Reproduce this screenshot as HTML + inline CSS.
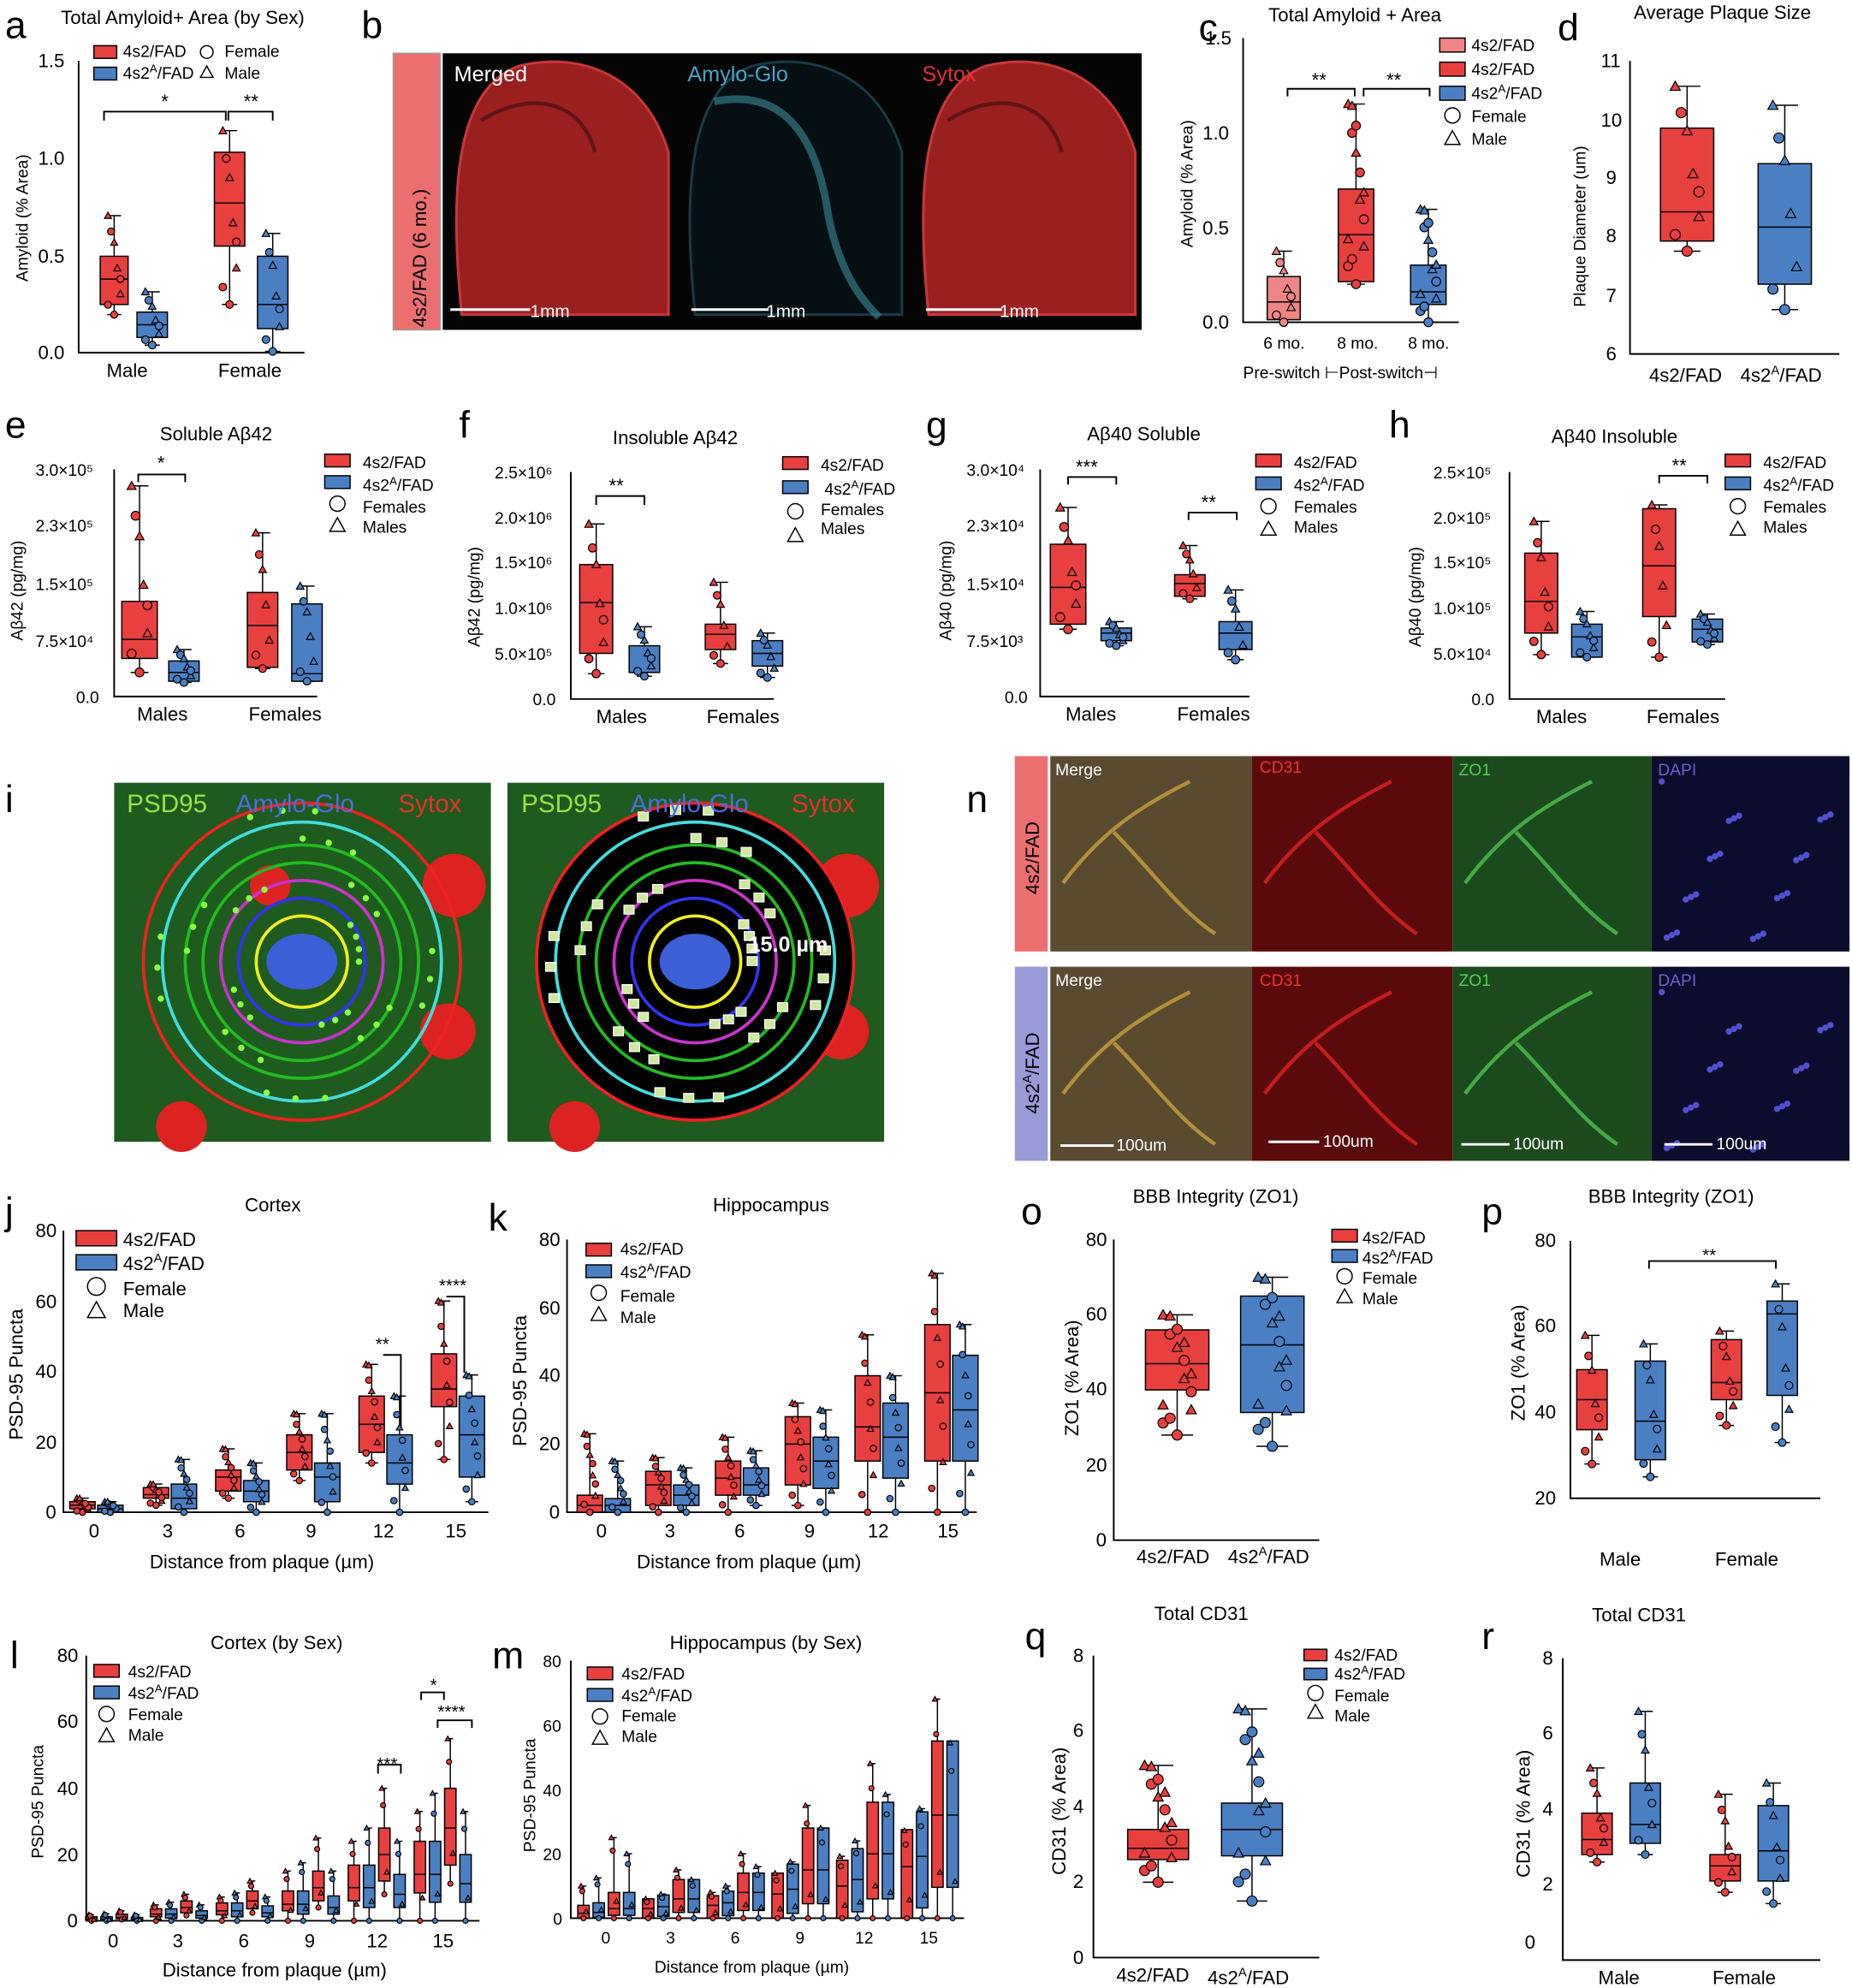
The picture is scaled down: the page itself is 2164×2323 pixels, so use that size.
<!DOCTYPE html>
<html><head><meta charset="utf-8"><style>
html,body{margin:0;padding:0;background:#fff}
svg{display:block}
text{font-family:"Liberation Sans",Arial,sans-serif;fill:#000}
.L{font-size:30px}
.t{font-size:15px}
.s{font-size:13px}
.k{font-size:14px}
.ax{stroke:#000;stroke-width:1.3;fill:none}
</style></head><body>
<svg id="S" width="2164" height="2323" viewBox="0 0 1460 1567" preserveAspectRatio="none" xmlns="http://www.w3.org/2000/svg">
<!-- panel letters -->
<text class="L" x="4" y="30">a</text><text class="L" x="285" y="30">b</text><text class="L" x="945" y="32">c</text><text class="L" x="1228" y="32">d</text>
<text class="L" x="4" y="345">e</text><text class="L" x="362" y="345">f</text><text class="L" x="730" y="345">g</text><text class="L" x="1095" y="345">h</text>
<text class="L" x="4" y="640">i</text><text class="L" x="762" y="640">n</text>
<text class="L" x="4" y="965">j</text><text class="L" x="385" y="970">k</text><text class="L" x="805" y="965">o</text><text class="L" x="1168" y="965">p</text>
<text class="L" x="8" y="1315">l</text><text class="L" x="388" y="1315">m</text><text class="L" x="808" y="1300">q</text><text class="L" x="1168" y="1300">r</text>

<!-- a -->
<text class="t" x="48" y="19">Total Amyloid+ Area (by Sex)</text>
<path class="ax" d="M62,48V278H240"/>
<g class="t"><text x="30" y="53">1.5</text><text x="30" y="130">1.0</text><text x="30" y="207">0.5</text><text x="30" y="283">0.0</text></g>
<text class="s" transform="translate(22,222) rotate(-90)">Amyloid (% Area)</text>
<text class="t" x="84" y="297">Male</text><text class="t" x="172" y="297">Female</text>
<text class="s" x="97" y="45">4s2/FAD</text><text class="s" x="97" y="62">4s2<tspan font-size="9" dy="-5">A</tspan><tspan dy="5">/FAD</tspan></text>
<text class="s" x="177" y="45">Female</text><text class="s" x="177" y="62">Male</text>
<path class="ax" d="M82,95V88H178V95"/><path class="ax" d="M180,95V88H215V95"/>
<text class="t" x="127" y="85">*</text><text class="t" x="192" y="85">**</text>

<!-- b -->
<rect x="310" y="42" width="37" height="218" fill="#ec6f6f" stroke="#999"/>
<text class="t" font-size="20" transform="translate(336,258) rotate(-90)">4s2/FAD (6 mo.)</text>
<rect x="349" y="42" width="551" height="218" fill="#050505"/>
<g id="brains"></g>
<text x="358" y="64" font-size="17" style="fill:#fff">Merged</text>
<text x="542" y="64" font-size="17" style="fill:#4aa3c8">Amylo-Glo</text>
<text x="727" y="64" font-size="17" style="fill:#e83030">Sytox</text>
<g stroke="#fff" stroke-width="2"><path d="M355,244H418M545,244H606M730,244H790"/></g>
<text x="418" y="250" font-size="14" style="fill:#fff">1mm</text><text x="604" y="250" font-size="14" style="fill:#fff">1mm</text><text x="788" y="250" font-size="14" style="fill:#fff">1mm</text>

<!-- c -->
<text class="t" x="1000" y="17">Total Amyloid + Area</text>
<path class="ax" d="M980,30V254H1150"/>
<g class="t"><text x="950" y="35">1.5</text><text x="948" y="110">1.0</text><text x="948" y="185">0.5</text><text x="948" y="259">0.0</text></g>
<text class="s" transform="translate(940,195) rotate(-90)">Amyloid (% Area)</text>
<text class="s" x="996" y="275">6 mo.</text><text class="s" x="1054" y="275">8 mo.</text><text class="s" x="1110" y="275">8 mo.</text>
<text class="s" x="980" y="298">Pre-switch ⊢Post-switch⊣</text>
<path class="ax" d="M1015,76V70H1068V76M1075,76V70H1127V76"/>
<text class="t" x="1034" y="68">**</text><text class="t" x="1093" y="68">**</text>
<text class="s" x="1160" y="40">4s2/FAD</text><text class="s" x="1160" y="59">4s2/FAD</text><text class="s" x="1160" y="78">4s2<tspan font-size="9" dy="-5">A</tspan><tspan dy="5">/FAD</tspan></text><text class="s" x="1160" y="96">Female</text><text class="s" x="1160" y="114">Male</text>

<!-- d -->
<text class="t" x="1288" y="15">Average Plaque Size</text>
<path class="ax" d="M1285,48V279H1450"/>
<g class="t"><text x="1262" y="53">11</text><text x="1262" y="100">10</text><text x="1266" y="145">9</text><text x="1266" y="191">8</text><text x="1266" y="238">7</text><text x="1266" y="284">6</text></g>
<text class="s" transform="translate(1250,242) rotate(-90)">Plaque Diameter (um)</text>
<text class="t" x="1300" y="301">4s2/FAD</text><text class="t" x="1372" y="301">4s2<tspan font-size="10" dy="-6">A</tspan><tspan dy="6">/FAD</tspan></text>

<!-- e -->
<text class="t" x="126" y="347">Soluble Aβ42</text>
<path class="ax" d="M90,370V549H250"/>
<g class="s"><text x="28" y="375">3.0×10⁵</text><text x="28" y="419">2.3×10⁵</text><text x="28" y="465">1.5×10⁵</text><text x="28" y="510">7.5×10⁴</text><text x="60" y="554">0.0</text></g>
<text class="s" transform="translate(18,505) rotate(-90)">Aβ42 (pg/mg)</text>
<text class="t" x="108" y="568">Males</text><text class="t" x="196" y="568">Females</text>
<path class="ax" d="M109,380V374H146V380"/><text class="t" x="124" y="370">*</text>
<text class="s" x="286" y="369">4s2/FAD</text><text class="s" x="286" y="387">4s2<tspan font-size="9" dy="-5">A</tspan><tspan dy="5">/FAD</tspan></text><text class="s" x="286" y="404">Females</text><text class="s" x="286" y="420">Males</text>
<!-- f -->
<text class="t" x="483" y="350">Insoluble Aβ42</text>
<path class="ax" d="M450,372V551H610"/>
<g class="s"><text x="390" y="377">2.5×10⁶</text><text x="390" y="413">2.0×10⁶</text><text x="390" y="448">1.5×10⁶</text><text x="390" y="484">1.0×10⁶</text><text x="390" y="520">5.0×10⁵</text><text x="420" y="556">0.0</text></g>
<text class="s" transform="translate(378,510) rotate(-90)">Aβ42 (pg/mg)</text>
<text class="t" x="470" y="570">Males</text><text class="t" x="557" y="570">Females</text>
<path class="ax" d="M470,398V391H508V398"/><text class="t" x="480" y="388">**</text>
<text class="s" x="647" y="371">4s2/FAD</text><text class="s" x="650" y="390">4s2<tspan font-size="9" dy="-5">A</tspan><tspan dy="5">/FAD</tspan></text><text class="s" x="647" y="406">Females</text><text class="s" x="647" y="421">Males</text>
<!-- g -->
<text class="t" x="857" y="347">Aβ40 Soluble</text>
<path class="ax" d="M820,370V549H985"/>
<g class="s"><text x="762" y="375">3.0×10⁴</text><text x="762" y="419">2.3×10⁴</text><text x="762" y="465">1.5×10⁴</text><text x="762" y="510">7.5×10³</text><text x="792" y="554">0.0</text></g>
<text class="s" transform="translate(750,505) rotate(-90)">Aβ40 (pg/mg)</text>
<text class="t" x="840" y="568">Males</text><text class="t" x="928" y="568">Females</text>
<path class="ax" d="M842,382V376H880V382M937,410V404H975V410"/><text class="t" x="848" y="373">***</text><text class="t" x="947" y="401">**</text>
<text class="s" x="1020" y="369">4s2/FAD</text><text class="s" x="1020" y="387">4s2<tspan font-size="9" dy="-5">A</tspan><tspan dy="5">/FAD</tspan></text><text class="s" x="1020" y="404">Females</text><text class="s" x="1020" y="420">Males</text>
<!-- h -->
<text class="t" x="1223" y="349">Aβ40 Insoluble</text>
<path class="ax" d="M1190,372V551H1360"/>
<g class="s"><text x="1130" y="377">2.5×10⁵</text><text x="1130" y="413">2.0×10⁵</text><text x="1130" y="448">1.5×10⁵</text><text x="1130" y="484">1.0×10⁵</text><text x="1130" y="520">5.0×10⁴</text><text x="1160" y="556">0.0</text></g>
<text class="s" transform="translate(1120,510) rotate(-90)">Aβ40 (pg/mg)</text>
<text class="t" x="1211" y="570">Males</text><text class="t" x="1298" y="570">Females</text>
<path class="ax" d="M1308,381V375H1346V381"/><text class="t" x="1318" y="372">**</text>
<text class="s" x="1390" y="369">4s2/FAD</text><text class="s" x="1390" y="387">4s2<tspan font-size="9" dy="-5">A</tspan><tspan dy="5">/FAD</tspan></text><text class="s" x="1390" y="404">Females</text><text class="s" x="1390" y="420">Males</text>

<!-- i -->
<rect x="90" y="617" width="297" height="283" fill="#1f5a1f"/>
<rect x="400" y="617" width="297" height="283" fill="#1f5a1f"/>
<g id="iimg"></g>
<g font-size="20"><text x="100" y="640" style="fill:#9be04a">PSD95</text><text x="186" y="640" style="fill:#4a6ee0">Amylo-Glo</text><text x="314" y="640" style="fill:#e83030">Sytox</text>
<text x="411" y="640" style="fill:#9be04a">PSD95</text><text x="497" y="640" style="fill:#4a6ee0">Amylo-Glo</text><text x="624" y="640" style="fill:#e83030">Sytox</text></g>
<text x="590" y="750" font-size="17" style="fill:#fff" font-weight="bold">15.0 µm</text>

<!-- n -->
<rect x="800" y="596" width="26" height="154" fill="#ec6f6f"/><rect x="800" y="762" width="26" height="153" fill="#9a9ad8"/>
<text class="t" transform="translate(819,705) rotate(-90)">4s2/FAD</text>
<text class="t" transform="translate(819,878) rotate(-90)">4s2<tspan font-size="10" dy="-6">A</tspan><tspan dy="6">/FAD</tspan></text>
<rect x="828" y="596" width="159" height="154" fill="#5a4a30"/><rect x="987" y="596" width="158" height="154" fill="#5a0a0a"/><rect x="1145" y="596" width="157" height="154" fill="#1c4a1c"/><rect x="1302" y="596" width="156" height="154" fill="#0c0c2c"/>
<rect x="828" y="762" width="159" height="153" fill="#5a4a30"/><rect x="987" y="762" width="158" height="153" fill="#5a0a0a"/><rect x="1145" y="762" width="157" height="153" fill="#1c4a1c"/><rect x="1302" y="762" width="156" height="153" fill="#0c0c2c"/>
<g id="nves"></g>
<g class="s"><text x="832" y="611" style="fill:#fff">Merge</text><text x="993" y="609" style="fill:#e33">CD31</text><text x="1150" y="611" style="fill:#5c5">ZO1</text><text x="1307" y="611" style="fill:#66c">DAPI</text>
<text x="832" y="777" style="fill:#fff">Merge</text><text x="993" y="777" style="fill:#e33">CD31</text><text x="1150" y="777" style="fill:#5c5">ZO1</text><text x="1307" y="777" style="fill:#66c">DAPI</text>
<text x="880" y="907" style="fill:#fff">100um</text><text x="1043" y="904" style="fill:#fff">100um</text><text x="1193" y="906" style="fill:#fff">100um</text><text x="1353" y="906" style="fill:#fff">100um</text></g>
<g stroke="#fff" stroke-width="2"><path d="M836,903H878M1000,900H1040M1152,902H1190M1312,902H1350"/></g>

<!-- j -->
<text class="t" x="193" y="955">Cortex</text>
<path class="ax" d="M50,970V1192H385"/>
<g class="t"><text x="28" y="975">80</text><text x="28" y="1031">60</text><text x="28" y="1086">40</text><text x="28" y="1142">20</text><text x="36" y="1197">0</text>
<text x="70" y="1212">0</text><text x="128" y="1212">3</text><text x="185" y="1212">6</text><text x="241" y="1212">9</text><text x="294" y="1212">12</text><text x="351" y="1212">15</text></g>
<text class="t" x="118" y="1236" font-size="16">Distance from plaque (µm)</text>
<text class="t" transform="translate(18,1135) rotate(-90)" font-size="16">PSD-95 Puncta</text>
<text class="t" x="97" y="982">4s2/FAD</text><text class="t" x="97" y="1001">4s2<tspan font-size="10" dy="-6">A</tspan><tspan dy="6">/FAD</tspan></text><text class="t" x="97" y="1021">Female</text><text class="t" x="97" y="1038">Male</text>
<path class="ax" d="M302,1068H316V1125M352,1022H366V1082"/><text class="k" x="296" y="1064">**</text><text class="k" x="346" y="1018">****</text>
<!-- k -->
<text class="t" x="562" y="955">Hippocampus</text>
<path class="ax" d="M447,977V1192H770"/>
<g class="t"><text x="425" y="982">80</text><text x="425" y="1036">60</text><text x="425" y="1089">40</text><text x="425" y="1143">20</text><text x="433" y="1197">0</text>
<text x="470" y="1212">0</text><text x="524" y="1212">3</text><text x="579" y="1212">6</text><text x="634" y="1212">9</text><text x="684" y="1212">12</text><text x="739" y="1212">15</text></g>
<text class="t" x="502" y="1236" font-size="16">Distance from plaque (µm)</text>
<text class="t" transform="translate(415,1140) rotate(-90)" font-size="16">PSD-95 Puncta</text>
<text class="s" x="489" y="989">4s2/FAD</text><text class="s" x="489" y="1007">4s2<tspan font-size="9" dy="-5">A</tspan><tspan dy="5">/FAD</tspan></text><text class="s" x="489" y="1026">Female</text><text class="s" x="489" y="1043">Male</text>
<!-- o -->
<text class="t" x="893" y="948">BBB Integrity (ZO1)</text>
<path class="ax" d="M878,977V1214H1040"/>
<g class="t"><text x="856" y="982">80</text><text x="856" y="1041">60</text><text x="856" y="1100">40</text><text x="856" y="1160">20</text><text x="864" y="1219">0</text></g>
<text class="t" transform="translate(850,1132) rotate(-90)">ZO1 (% Area)</text>
<text class="t" x="896" y="1232">4s2/FAD</text><text class="t" x="968" y="1232">4s2<tspan font-size="10" dy="-6">A</tspan><tspan dy="6">/FAD</tspan></text>
<text class="s" x="1074" y="980">4s2/FAD</text><text class="s" x="1074" y="996">4s2<tspan font-size="9" dy="-5">A</tspan><tspan dy="5">/FAD</tspan></text><text class="s" x="1074" y="1012">Female</text><text class="s" x="1074" y="1028">Male</text>
<!-- p -->
<text class="t" x="1252" y="948">BBB Integrity (ZO1)</text>
<path class="ax" d="M1238,978V1181H1435"/>
<g class="t"><text x="1210" y="983">80</text><text x="1210" y="1050">60</text><text x="1210" y="1118">40</text><text x="1210" y="1186">20</text></g>
<text class="t" transform="translate(1202,1120) rotate(-90)">ZO1 (% Area)</text>
<text class="t" x="1261" y="1234" font-size="16">Male</text><text class="t" x="1352" y="1234" font-size="16">Female</text>
<path class="ax" d="M1300,1000V994H1400V1000"/><text class="k" x="1342" y="994">**</text>

<!-- l -->
<text class="t" x="166" y="1300">Cortex (by Sex)</text>
<path class="ax" d="M68,1305V1514H378"/>
<g class="t"><text x="45" y="1310">80</text><text x="45" y="1362">60</text><text x="45" y="1415">40</text><text x="45" y="1467">20</text><text x="53" y="1519">0</text>
<text x="85" y="1535">0</text><text x="136" y="1535">3</text><text x="188" y="1535">6</text><text x="240" y="1535">9</text><text x="289" y="1535">12</text><text x="341" y="1535">15</text></g>
<text class="t" x="128" y="1558">Distance from plaque (µm)</text>
<text class="s" transform="translate(34,1465) rotate(-90)">PSD-95 Puncta</text>
<text class="s" x="101" y="1322">4s2/FAD</text><text class="s" x="101" y="1339">4s2<tspan font-size="9" dy="-5">A</tspan><tspan dy="5">/FAD</tspan></text><text class="s" x="101" y="1356">Female</text><text class="s" x="101" y="1372">Male</text>
<path class="ax" d="M298,1398V1391H316V1398M332,1340V1334H350V1340M345,1362V1356H372V1362"/>
<text class="k" x="297" y="1395">***</text><text class="k" x="339" y="1333">*</text><text class="k" x="345" y="1354">****</text>
<!-- m -->
<text class="t" x="528" y="1300">Hippocampus (by Sex)</text>
<path class="ax" d="M450,1309V1512H760"/>
<g class="s"><text x="428" y="1314">80</text><text x="428" y="1365">60</text><text x="428" y="1416">40</text><text x="428" y="1466">20</text><text x="436" y="1517">0</text>
<text x="474" y="1532">0</text><text x="525" y="1532">3</text><text x="576" y="1532">6</text><text x="627" y="1532">9</text><text x="674" y="1532">12</text><text x="725" y="1532">15</text></g>
<text class="s" x="516" y="1555">Distance from plaque (µm)</text>
<text class="s" transform="translate(422,1460) rotate(-90)">PSD-95 Puncta</text>
<text class="s" x="490" y="1324">4s2/FAD</text><text class="s" x="490" y="1341">4s2<tspan font-size="9" dy="-5">A</tspan><tspan dy="5">/FAD</tspan></text><text class="s" x="490" y="1357">Female</text><text class="s" x="490" y="1373">Male</text>
<!-- q -->
<text class="t" x="910" y="1277">Total CD31</text>
<path class="ax" d="M862,1305V1543H1040"/>
<g class="t"><text x="846" y="1310">8</text><text x="846" y="1369">6</text><text x="846" y="1429">4</text><text x="846" y="1488">2</text><text x="846" y="1548">0</text></g>
<text class="t" transform="translate(840,1478) rotate(-90)">CD31 (% Area)</text>
<text class="t" x="880" y="1562">4s2/FAD</text><text class="t" x="952" y="1564">4s2<tspan font-size="10" dy="-6">A</tspan><tspan dy="6">/FAD</tspan></text>
<text class="s" x="1052" y="1309">4s2/FAD</text><text class="s" x="1052" y="1324">4s2<tspan font-size="9" dy="-5">A</tspan><tspan dy="5">/FAD</tspan></text><text class="s" x="1052" y="1341">Female</text><text class="s" x="1052" y="1357">Male</text>
<!-- r -->
<text class="t" x="1255" y="1278">Total CD31</text>
<path class="ax" d="M1232,1307V1545H1435"/>
<g class="t"><text x="1216" y="1312">8</text><text x="1216" y="1371">6</text><text x="1216" y="1431">4</text><text x="1216" y="1490">2</text><text x="1202" y="1536">0</text></g>
<text class="t" transform="translate(1206,1480) rotate(-90)">CD31 (% Area)</text>
<text class="t" x="1260" y="1564">Male</text><text class="t" x="1350" y="1564">Female</text>

<g id="dyn"></g>
</svg>
<script>
var R="#e8403f",B="#4b7fc3",LR="#ef8584";
var G=document.getElementById("dyn"),out="";
function box(x,w,top,q3,med,q1,bot,c,n){
 var h=w/2;
 out+='<path d="M'+x+','+top+'V'+q3+'M'+x+','+q1+'V'+bot+'M'+(x-h/2)+','+top+'H'+(x+h/2)+'M'+(x-h/2)+','+bot+'H'+(x+h/2)+'" stroke="#000" stroke-width="1"/>';
 out+='<rect x="'+(x-h)+'" y="'+q3+'" width="'+w+'" height="'+(q1-q3)+'" fill="'+c+'" stroke="#000" stroke-width="1"/>';
 out+='<path d="M'+(x-h)+','+med+'H'+(x+h)+'" stroke="#000"/>';
 n=n||6;var r=Math.min(4,Math.max(2,w/8));
 for(var i=0;i<n;i++){var y=top+(bot-top)*((i*0.37+0.05)%1);if(i==0)y=top;if(i==1)y=bot;
  var xx=x+((i*7)%5-2)*w/9;
  if(i%2)out+='<circle cx="'+xx+'" cy="'+y+'" r="'+r+'" fill="'+c+'" stroke="#000" stroke-width="0.8"/>';
  else out+='<path d="M'+xx+','+(y-r)+'L'+(xx+r)+','+(y+r*0.8)+'L'+(xx-r)+','+(y+r*0.8)+'Z" fill="'+c+'" stroke="#000" stroke-width="0.8"/>';}
}
function leg(x,y,c,w,h){out+='<rect x="'+x+'" y="'+y+'" width="'+w+'" height="'+h+'" fill="'+c+'" stroke="#000"/>';}
function sym(x,y,r,t){if(t)out+='<path d="M'+x+','+(y-r)+'L'+(x+r)+','+(y+r*0.8)+'L'+(x-r)+','+(y+r*0.8)+'Z" fill="none" stroke="#000"/>';else out+='<circle cx="'+x+'" cy="'+y+'" r="'+r+'" fill="none" stroke="#000"/>';}
function L4(x,y,dy,w,h,r){leg(x,y,R,w,h);leg(x,y+dy,B,w,h);sym(x+w/2,y+2*dy+h/2,r,0);sym(x+w/2,y+3*dy+h/2,r,1);}
box(90,22,170,202,220,240,248,R,8);box(120,24,230,246,256,266,272,B,8);box(181,24,103,120,160,194,240,R,8);box(215,24,184,202,240,259,277,B,8);
leg(74,36,R,18,10);leg(74,53,B,18,10);sym(163,41,5,0);sym(163,57,5,1);
box(1012,26,198,218,238,252,254,LR,8);box(1069,28,82,149,185,222,224,R,14);box(1126,28,165,209,230,240,254,B,14);
leg(1135,30,LR,20,11);leg(1135,49,R,20,11);leg(1135,68,B,20,11);sym(1145,91,6,0);sym(1145,109,6,1);
box(1330,42,68,101,167,190,198,R,8);box(1407,42,83,129,179,224,244,B,7);
box(110,28,383,474,504,519,530,R,8);box(145,24,512,521,530,537,538,B,8);box(207,24,420,467,493,526,527,R,7);box(242,24,462,476,531,537,537,B,7);
L4(256,358,17,20,10,6);
box(470,26,413,445,475,515,531,R,8);box(508,24,494,509,530,530,533,B,8);box(568,24,459,492,500,512,523,R,7);box(605,24,499,505,515,525,534,B,7);
L4(617,360,19,20,10,6);
box(842,28,400,429,463,492,496,R,8);box(880,24,490,495,499,505,509,B,8);box(938,24,430,453,460,470,472,R,7);box(974,26,465,490,499,512,520,B,7);
L4(990,358,18,20,10,6);
box(1215,26,411,436,474,499,516,R,8);box(1251,24,482,492,502,518,518,B,8);box(1308,26,398,401,446,486,518,R,7);box(1346,24,484,488,496,506,508,B,8);
L4(1360,358,18,20,10,6);
var jx=[75,133,190,246,303,360],jy=function(v){return 1192-v*2.775};
var jr=[[4,3,2,1,0],[8,7,5,4,2],[18,12,10,6,4],[28,22,17,12,9],[42,33,25,17,14],[60,45,35,30,15]];
var jb=[[3,2,1,0,0],[15,8,4,1,0],[14,9,6,3,0],[28,14,10,3,0],[33,22,14,8,0],[39,33,22,10,3]];
for(var i=0;i<6;i++){var a=jr[i],b=jb[i];box(jx[i]-10,20,jy(a[0]),jy(a[1]),jy(a[2]),jy(a[3]),jy(a[4]),R,10);box(jx[i]+12,20,jy(b[0]),jy(b[1]),jy(b[2]),jy(b[3]),jy(b[4]),B,10);}
L4(60,970,19,32,12,7);
var kx=[475,529,584,639,694,749],ky=function(v){return 1192-v*2.69};
var kr=[[23,5,2,0,0],[16,12,8,2,0],[22,15,10,5,0],[32,28,20,8,2],[52,40,25,15,0],[70,55,35,15,0]];
var kb=[[15,4,2,0,0],[13,8,5,2,0],[18,13,8,5,2],[30,22,15,7,0],[40,32,22,10,0],[55,46,30,15,0]];
for(i=0;i<6;i++){a=kr[i];b=kb[i];box(kx[i]-10,20,ky(a[0]),ky(a[1]),ky(a[2]),ky(a[3]),ky(a[4]),R,10);box(kx[i]+12,20,ky(b[0]),ky(b[1]),ky(b[2]),ky(b[3]),ky(b[4]),B,10);}
L4(462,980,17,20,10,6);
var lx=[90,141,193,245,297,349],ly=function(v){return 1514-v*2.61};
var lv=[[3,2,1],[8,6,4],[12,9,6],[25,15,10],[40,28,20],[55,40,28]];
for(i=0;i<6;i++){var v=lv[i];box(lx[i]-18,9,ly(v[0]*0.6),ly(v[1]*0.6),ly(v[2]*0.5),ly(v[2]*0.3),ly(0),R,4);box(lx[i]-6,9,ly(v[0]*0.7),ly(v[1]*0.6),ly(v[2]*0.5),ly(v[2]*0.2),ly(0),B,4);box(lx[i]+6,9,ly(v[0]),ly(v[1]),ly(v[2]),ly(v[2]*0.6),ly(v[2]*0.4),R,4);box(lx[i]+18,9,ly(v[0]*0.6),ly(v[1]*0.5),ly(v[2]*0.4),ly(v[2]*0.2),ly(0),B,4);}
L4(74,1312,17,20,10,6);
var mx=[478,529,580,631,682,733],my=function(v){return 1512-v*2.54};
var mv=[[25,8,3],[15,12,6],[20,14,8],[35,28,15],[48,36,20],[68,55,32]];
for(i=0;i<6;i++){v=mv[i];box(mx[i]-18,9,my(v[0]*0.4),my(v[1]*0.5),my(v[2]*0.5),my(0),my(0),R,4);box(mx[i]-6,9,my(v[0]*0.5),my(v[1]*0.6),my(v[2]*0.6),my(v[2]*0.1),my(0),B,4);box(mx[i]+6,9,my(v[0]),my(v[1]),my(v[2]),my(v[2]*0.3),my(0),R,4);box(mx[i]+18,9,my(v[0]*0.8),my(v[1]),my(v[2]),my(v[2]*0.3),my(0),B,4);}
L4(463,1314,17,20,10,6);
var oy=function(v){return 1214-v*2.96};
box(928,50,oy(60),oy(56),oy(47),oy(40),oy(28),R,15);box(1003,50,oy(70),oy(65),oy(52),oy(34),oy(25),B,15);
L4(1050,969,16,20,10,6);
var py=function(v){return 1181-(v-20)*3.38};
box(1255,24,py(58),py(50),py(43),py(36),py(28),R,8);box(1301,24,py(56),py(52),py(38),py(29),py(25),B,8);box(1361,24,py(59),py(57),py(47),py(43),py(37),R,8);box(1405,24,py(70),py(66),py(63),py(44),py(33),B,8);
var qy=function(v){return 1543-v*29.7};
box(913,48,qy(5.1),qy(3.4),qy(2.9),qy(2.6),qy(2),R,15);box(987,48,qy(6.6),qy(4.1),qy(3.4),qy(2.7),qy(1.5),B,15);
L4(1028,1300,15,18,9,6);
var ry=function(v){return 1545-v*29.7};
box(1259,24,ry(5.1),ry(3.9),ry(3.2),ry(2.8),ry(2.6),R,8);box(1297,24,ry(6.6),ry(4.7),ry(3.6),ry(3.1),ry(2.8),B,8);box(1360,24,ry(4.4),ry(2.8),ry(2.5),ry(2.1),ry(1.8),R,8);box(1398,24,ry(4.7),ry(4.1),ry(2.9),ry(2.1),ry(1.5),B,8);
G.innerHTML=out;
var bs="";[349,533,717].forEach(function(x,i){var f=i==1?"#061014":"#9a2020";
 bs+='<path d="M'+(x+15)+',248 C'+(x+5)+',150 '+(x+10)+',70 '+(x+60)+',52 C'+(x+110)+',40 '+(x+160)+',60 '+(x+178)+',120 L'+(x+178)+',248 Z" fill="'+f+'" stroke="'+(i==1?"#1a3a44":"#c83838")+'" stroke-width="2"/>';
 if(i==1)bs+='<path d="M'+(x+30)+',80 C'+(x+80)+',70 '+(x+110)+',100 '+(x+120)+',170 C'+(x+130)+',220 '+(x+150)+',240 '+(x+160)+',250" stroke="#3a8a9a" stroke-width="6" fill="none" opacity="0.6"/>';
 else bs+='<path d="M'+(x+30)+',95 C'+(x+70)+',70 '+(x+110)+',80 '+(x+120)+',120" stroke="#601414" stroke-width="3" fill="none"/>';});
document.getElementById("brains").innerHTML=bs;
var ir="";[[238,758],[548,758]].forEach(function(c,i){var x=c[0],y=c[1];
 ir+='<circle cx="'+(x-95)+'" cy="'+(y+130)+'" r="20" fill="#d22"/><circle cx="'+(x+120)+'" cy="'+(y-60)+'" r="25" fill="#d22"/><circle cx="'+(x+115)+'" cy="'+(y+55)+'" r="22" fill="#d22"/><circle cx="'+(x-25)+'" cy="'+(y-60)+'" r="16" fill="#d22"/>';
 if(i==1)ir+='<circle cx="'+x+'" cy="'+y+'" r="125" fill="#000"/>';
 [[125,"#e22"],[110,"#4dd"],[92,"#2b2"],[78,"#2b2"],[64,"#c3c"],[50,"#33e"],[36,"#ee2"]].forEach(function(q){ir+='<circle cx="'+x+'" cy="'+y+'" r="'+q[0]+'" fill="none" stroke="'+q[1]+'" stroke-width="2.5"/>';});
 ir+='<ellipse cx="'+x+'" cy="'+y+'" rx="28" ry="22" fill="#3b5fd6"/>';});
for(var k=0;k<40;k++){var a=k*2.4,r=45+(k*37)%80;ir+='<rect x="'+(548+r*Math.cos(a)-4)+'" y="'+(758+r*Math.sin(a)-4)+'" width="8" height="7" fill="#cfe8a0" stroke="#fff" stroke-width="0.8"/>';ir+='<circle cx="'+(238+r*Math.cos(a))+'" cy="'+(758+r*Math.sin(a))+'" r="2.5" fill="#8f4"/>';}
document.getElementById("iimg").innerHTML=ir;
var nv="";[[596,0],[762,1]].forEach(function(q){var y=q[0];[[828,"#c8a040"],[987,"#e02020"],[1145,"#50c050"]].forEach(function(p){var x=p[0];
 nv+='<path d="M'+(x+10)+','+(y+100)+' C'+(x+40)+','+(y+60)+' '+(x+70)+','+(y+40)+' '+(x+110)+','+(y+20)+' M'+(x+50)+','+(y+60)+' C'+(x+80)+','+(y+90)+' '+(x+100)+','+(y+120)+' '+(x+130)+','+(y+140)+'" stroke="'+p[1]+'" stroke-width="3" fill="none" opacity="0.8"/>';});
 for(var k=0;k<25;k++)nv+='<circle cx="'+(1310+(k*53)%140)+'" cy="'+(y+20+(k*31)%125)+'" r="2.5" fill="#5050d0"/>';});
document.getElementById("nves").innerHTML=nv;
</script>
</body></html>
